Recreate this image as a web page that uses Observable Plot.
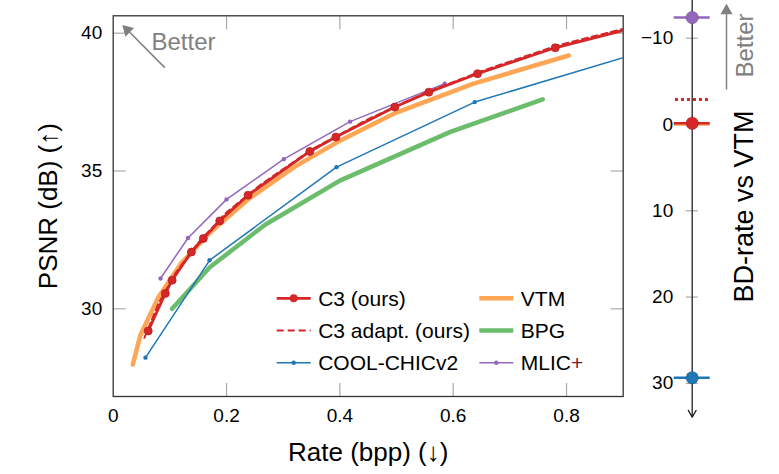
<!DOCTYPE html>
<html><head><meta charset="utf-8">
<script src="https://cdn.jsdelivr.net/npm/d3@7"></script>
<script src="https://cdn.jsdelivr.net/npm/@observablehq/plot@0.6"></script>
<style>
body{margin:0;background:#fff;}
#wrap{position:relative;width:779px;height:474px;overflow:hidden;font-family:"Liberation Sans",Arial,sans-serif;}
#wrap svg{position:absolute;top:0;}
</style></head><body><div id="wrap"></div>
<script>
// ---- data: rate (bpp), PSNR (dB) ----
const c3      = [[0.0618,29.2],[0.092,30.56],[0.104,31.04],[0.138,32.06],[0.159,32.55],[0.188,33.19],[0.238,34.12],[0.347,35.71],[0.393,36.23],[0.497,37.32],[0.557,37.86],[0.643,38.53],[0.780,39.47],[0.950,40.36]];
const c3Adapt = [[0.055,28.95],[0.080,30.2],[0.110,31.3],[0.150,32.4],[0.200,33.5],[0.260,34.5],[0.350,35.78],[0.450,36.88],[0.550,37.83],[0.650,38.62],[0.780,39.53],[0.950,40.42]];
const vtm     = [[0.0346,27.98],[0.048,29.05],[0.080,30.43],[0.120,31.65],[0.170,32.75],[0.240,34.0],[0.320,35.15],[0.401,36.11],[0.495,37.08],[0.636,38.17],[0.804,39.19]];
const bpg     = [[0.104,30.0],[0.170,31.5],[0.268,33.05],[0.400,34.65],[0.595,36.42],[0.758,37.6]];
const coolChic= [[0.057,28.23],[0.170,31.76],[0.394,35.14],[0.638,37.5],[0.950,39.42]];
const mlic    = [[0.0835,31.1],[0.132,32.57],[0.200,33.97],[0.301,35.43],[0.418,36.79],[0.585,38.17]];
const xTicks = [0, 0.2, 0.4, 0.6, 0.8];
const yTicks = [30, 35, 40];
// BD-rate vs VTM (%)
const bdNames  = ["VTM", "C3 (ours)", "MLIC+", "COOL-CHICv2"];
const bdValues = [0, -0.15, -12.4, 29.35];
const bdAdapt  = [-2.9];
const bdTicks  = [-10, 0, 10, 20, 30];
// legend
const legendNames = ["C3 (ours)", "C3 adapt. (ours)", "COOL-CHICv2", "VTM", "BPG", "MLIC"];

const RED = "#d62728", ORANGE = "#ffa556", GREEN = "#6bbc6b", BLUE = "#1f77b4", PURPLE = "#9467bd", GRAY = "#808080";
const FONT = '"Liberation Sans", Arial, sans-serif';
const rows = pts => pts.map(([rate, psnr]) => ({rate, psnr}));
const wrap = document.getElementById("wrap");

const main = Plot.plot({
  width: 640, height: 474,
  marginLeft: 112.7, marginRight: 17.3, marginTop: 15.3, marginBottom: 78,
  x: {domain: [0, 0.9]},
  y: {domain: [26.82, 40.63]},
  style: {fontFamily: FONT, fontSize: "19px", color: "#000", background: "transparent", overflow: "visible"},
  marks: [
    Plot.axisX(xTicks, {anchor: "bottom", tickSize: 0, tickPadding: 12, label: null, tickFormat: d => String(d), fontSize: 19}),
    Plot.axisX(xTicks.slice(1), {anchor: "bottom", tickSize: -13, tickFormat: () => "", label: null, stroke: "#aaa", strokeWidth: 1.2}),
    Plot.axisX(xTicks.slice(1), {anchor: "top", tickSize: -13, tickFormat: () => "", label: null, stroke: "#aaa", strokeWidth: 1.2}),
    Plot.axisY(yTicks, {anchor: "left", tickSize: 0, tickPadding: 11, label: null, tickFormat: d => String(d), fontSize: 19}),
    Plot.axisY(yTicks, {anchor: "left", tickSize: -13, tickFormat: () => "", label: null, stroke: "#aaa", strokeWidth: 1.2}),
    Plot.axisY(yTicks, {anchor: "right", tickSize: -13, tickFormat: () => "", label: null, stroke: "#aaa", strokeWidth: 1.2}),
    Plot.text(["Rate (bpp) (↓)"], {frameAnchor: "bottom", dy: 56, text: d => d, fontSize: 26, textAnchor: "middle", lineAnchor: "middle"}),
    Plot.text(["PSNR (dB) (↑)"], {frameAnchor: "left", dx: -64.7, text: d => d, fontSize: 26, rotate: -90, textAnchor: "middle", lineAnchor: "middle"}),
    Plot.line(rows(vtm), {x: "rate", y: "psnr", stroke: ORANGE, strokeWidth: 4.5, clip: true}),
    Plot.line(rows(bpg), {x: "rate", y: "psnr", stroke: GREEN, strokeWidth: 4.5, clip: true}),
    Plot.line(rows(coolChic), {x: "rate", y: "psnr", stroke: BLUE, strokeWidth: 1.5, clip: true}),
    Plot.dot(rows(coolChic), {x: "rate", y: "psnr", fill: BLUE, r: 2.2, clip: true}),
    Plot.line(rows(mlic), {x: "rate", y: "psnr", stroke: PURPLE, strokeWidth: 1.5, clip: true}),
    Plot.dot(rows(mlic), {x: "rate", y: "psnr", fill: PURPLE, r: 2.2, clip: true}),
    Plot.line(rows(c3), {x: "rate", y: "psnr", stroke: RED, strokeWidth: 2.8, clip: true}),
    Plot.line(rows(c3Adapt), {x: "rate", y: "psnr", stroke: RED, strokeWidth: 2, strokeDasharray: "6,4", clip: true}),
    Plot.dot(rows(c3), {x: "rate", y: "psnr", fill: RED, stroke: "#b71f20", strokeWidth: 0.8, r: 4, clip: true}),
    // "Better" annotation
    Plot.link([0], {x1: 0.091, y1: 38.75, x2: 0.0235, y2: 40.15, stroke: GRAY, strokeWidth: 1.5}),
    Plot.dot([0], {x: 0.0159, y: 40.30, symbol: "triangle", r: 4.5, fill: GRAY, rotate: -45, dx: 5, dy: 5}),
    Plot.text(["Better"], {x: 0.0676, y: 39.66, text: d => d, fill: GRAY, fontSize: 24, textAnchor: "start", lineAnchor: "middle"}),
    Plot.frame({stroke: "#333", strokeWidth: 1.3})
  ]
});
main.style.left = "0px";
wrap.appendChild(main);

// legend overlay
const leg = d3.create("svg").attr("width", 779).attr("height", 474).style("left", "0px")
  .style("font-family", FONT).style("font-size", "21px");
const legStyles = [
  {stroke: RED, w: 2.8, dot: 4, dash: null},
  {stroke: RED, w: 2, dot: 0, dash: "7,4"},
  {stroke: BLUE, w: 1.5, dot: 2.2, dash: null},
  {stroke: ORANGE, w: 4.5, dot: 0, dash: null},
  {stroke: GREEN, w: 4.5, dot: 0, dash: null},
  {stroke: PURPLE, w: 1.5, dot: 2.2, dash: null}
];
const colX = [276.7, 479.3], rowY = [298.3, 330.5, 362.7];
legendNames.forEach((name, i) => {
  const s = legStyles[i], x0 = colX[Math.floor(i / 3)], y0 = rowY[i % 3];
  const g = leg.append("g");
  g.append("line").attr("x1", x0).attr("x2", x0 + 34).attr("y1", y0).attr("y2", y0)
    .attr("stroke", s.stroke).attr("stroke-width", s.w).attr("stroke-dasharray", s.dash);
  if (s.dot) g.append("circle").attr("cx", x0 + 17).attr("cy", y0).attr("r", s.dot).attr("fill", s.stroke);
  const t = g.append("text").attr("x", x0 + 41.5).attr("y", y0).attr("dy", "0.36em").text(name);
  if (name === "MLIC") t.append("tspan").attr("fill", "#7a1c1c").text("+");
});
wrap.appendChild(leg.node());

// right panel: BD-rate vs VTM
const bdRows = bdNames.map((name, i) => ({name, bd: bdValues[i], color: [ORANGE, RED, PURPLE, BLUE][i]}));
const right = Plot.plot({
  width: 139, height: 474,
  marginLeft: 33.7, marginRight: 69.3, marginTop: 0, marginBottom: 57.3,
  x: {domain: [-1, 1], axis: null},
  y: {domain: [-14.37, 33.92], reverse: true, axis: null},
  color: {type: "identity"},
  style: {fontFamily: FONT, fontSize: "19px", color: "#000", background: "transparent", overflow: "visible"},
  marks: [
    Plot.ruleY(bdTicks, {y: d => d, x1: -1 / 3, x2: 1 / 3, stroke: "#aaa", strokeWidth: 1.2}),
    Plot.text(bdTicks, {x: -1, y: d => d, text: d => d < 0 ? "−" + (-d) : String(d), textAnchor: "end", dx: -1, fontSize: 19}),
    Plot.arrow([0], {x1: 0, x2: 0, y1: -14.37, y2: 33.92, stroke: "#222", strokeWidth: 1.3, headLength: 9}),
    Plot.ruleY(bdRows, {y: "bd", x1: -1, x2: 1, stroke: "color", strokeWidth: 2.6}),
    Plot.ruleY(bdAdapt, {y: d => d, x1: -0.93, x2: 0.96, stroke: RED, strokeWidth: 3, strokeDasharray: "3,3"}),
    Plot.dot(bdRows.filter(d => d.name !== "VTM"), {x: 0, y: "bd", r: 6.3, fill: "color", stroke: "#0003", strokeWidth: 0.8}),
    Plot.link([0], {x1: 1.906, x2: 1.906, y1: -4.06, y2: -13.3, stroke: GRAY, strokeWidth: 1.5}),
    Plot.dot([0], {x: 1.906, y: -13.99, symbol: "triangle", r: 4.5, fill: GRAY, dy: 7}),
    Plot.text(["Better"], {x: 2.95, y: -9.15, text: d => d, rotate: -90, fill: GRAY, fontSize: 24, lineAnchor: "middle"}),
    Plot.text(["BD-rate vs VTM"], {x: 2.9, y: 9.5, text: d => d, rotate: -90, fontSize: 27, lineAnchor: "middle"})
  ]
});
right.style.left = "640px";
wrap.appendChild(right);
</script>
</body></html>
